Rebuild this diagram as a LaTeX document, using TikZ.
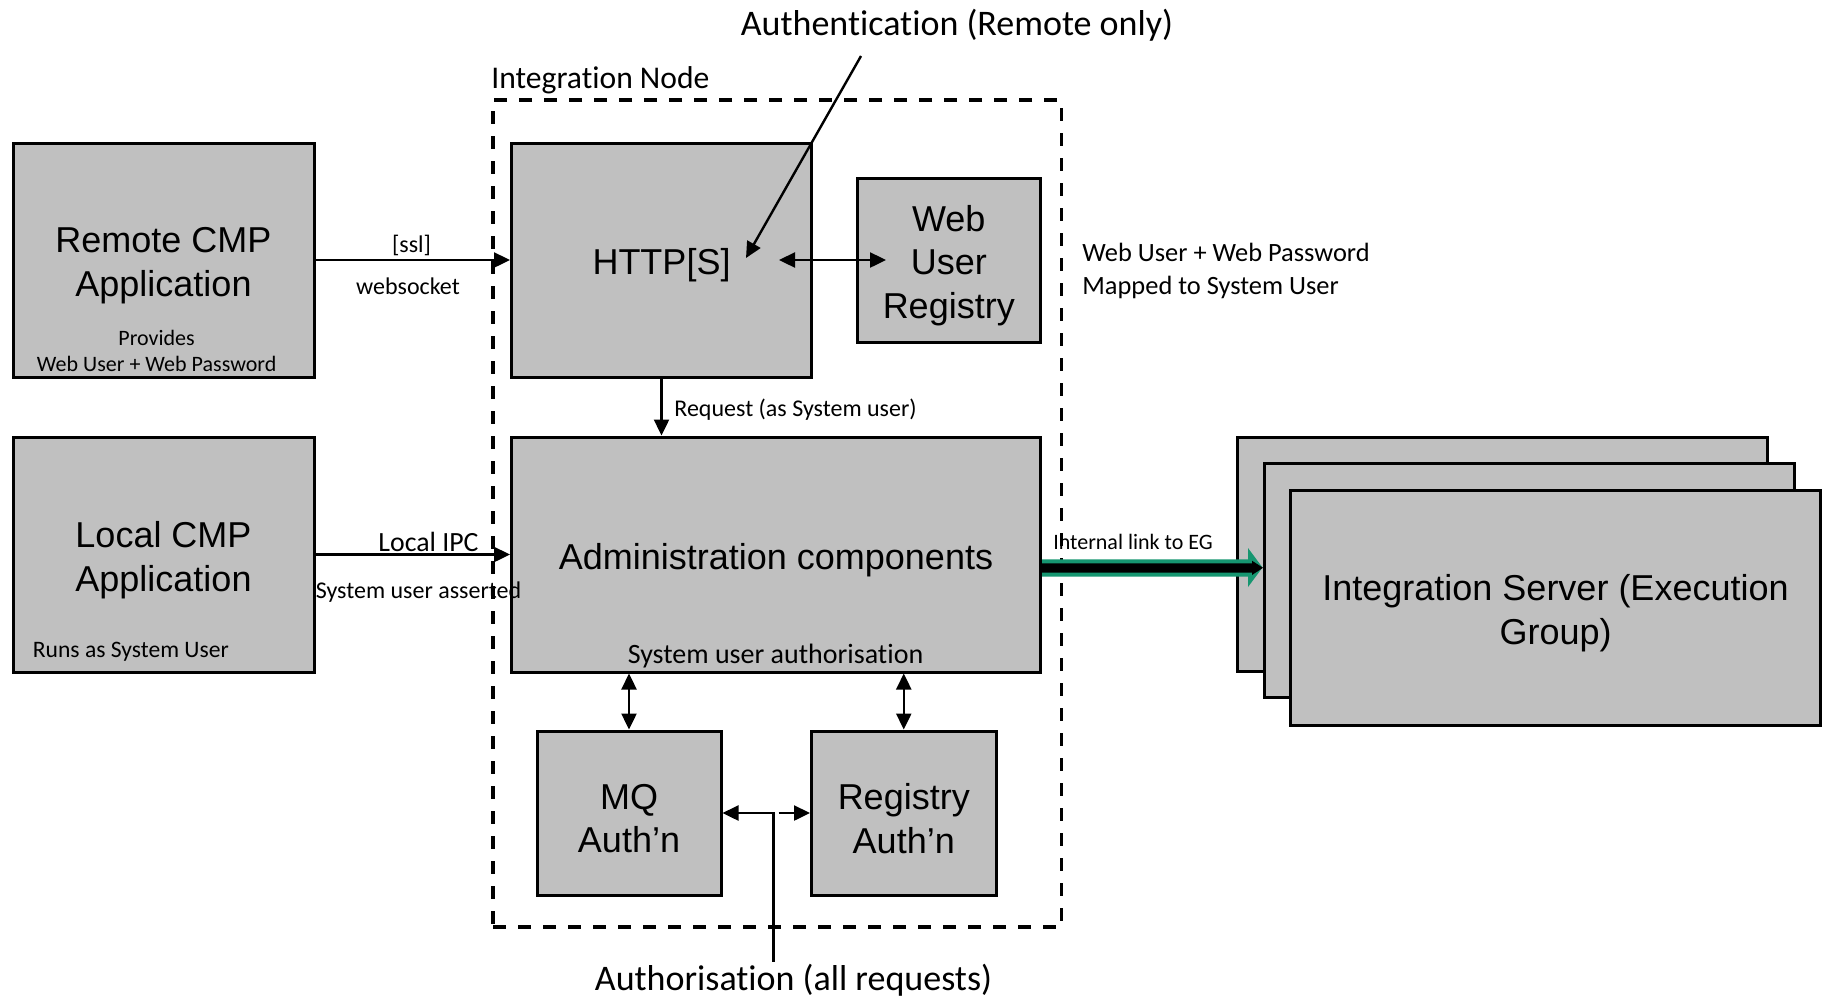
\documentclass[tikz,border=0pt]{standalone}
\usepackage{fontspec}
\setmainfont{Carlito}[Ligatures=NoCommon]
\newfontfamily\boxfont{Liberation Sans}
\usetikzlibrary{arrows.meta}
\definecolor{boxgray}{RGB}{192,192,192}
\definecolor{linkgreen}{RGB}{22,150,112}
\begin{document}
\begin{tikzpicture}[x=0.5pt,y=-0.5pt,
  box/.style={draw=black,line width=1.5pt,fill=boxgray,inner sep=0pt},
  boxtext/.style={align=center,inner sep=0pt,font=\boxfont\fontsize{18}{21.7}\selectfont},
  frame/.style={draw=black,line width=1.9pt,dash pattern=on 6.5pt off 6pt,inner sep=0pt},
  tip/.tip={Triangle[length=8pt,width=7.5pt]},
  arr/.style={line width=1.2pt,-tip},
  darr/.style={line width=1.2pt,tip-tip},
  lbl/.style={inner sep=0pt},
  big/.style={font=\fontsize{18}{21.6}\selectfont},
  mid/.style={font=\fontsize{14}{16.8}\selectfont},
  small/.style={font=\fontsize{12}{14.4}\selectfont}]
\useasboundingbox (0,0) rectangle (1823,997);

% client applications
\node[box,minimum width=150.5pt,minimum height=117pt] (remote) at (163.5,260) {};
\node[boxtext] (remotetxt) at ([yshift=-2.8pt]remote.center) {Remote CMP\\Application};
\node[box,minimum width=150.5pt,minimum height=117.5pt] (local) at (163.5,554.5) {};
\node[boxtext] (localtxt) at ([yshift=-2.8pt]local.center) {Local CMP\\Application};
\node[lbl,align=center,font=\fontsize{11}{13}\selectfont] (provides) at (156.6,350.5) {Provides\\Web User + Web Password};
\node[lbl,anchor=west,font=\fontsize{11.8}{14}\selectfont] (runsas) at (32.5,652) {Runs as System User};

% integration node frame
\node[frame,minimum width=284.25pt,minimum height=413.5pt] (inode) at (777.25,513.5) {};
\node[lbl,anchor=west,font=\fontsize{15.8}{19}\selectfont] (inodelbl) at (491,80) {Integration Node};

% components inside the integration node
\node[box,minimum width=150pt,minimum height=117pt] (http) at (661.5,260) {};
\node[boxtext] (httptxt) at ([yshift=-2.8pt]http.center) {HTTP[S]};
\node[box,minimum width=91.75pt,minimum height=82pt] (webreg) at (948.75,260) {};
\node[boxtext] (webregtxt) at ([yshift=-2.8pt]webreg.center) {Web\\User\\Registry};
\node[box,minimum width=264.5pt,minimum height=117.5pt] (admin) at (776,554.5) {};
\node[boxtext] (admintxt) at ([yshift=-2.8pt]admin.center) {Administration components};
\node[box,minimum width=92pt,minimum height=82pt] (mq) at (629,813) {};
\node[boxtext] (mqtxt) at ([yshift=-2.8pt]mq.center) {MQ\\Auth’n};
\node[box,minimum width=92.25pt,minimum height=82pt] (regauth) at (903.75,813) {};
\node[boxtext] (regauthtxt) at ([yshift=-2.8pt]regauth.center) {Registry\\Auth’n};
\node[lbl,mid] (sysauth) at (775.5,656) {System user authorisation};

% stacked integration servers
\node[box,minimum width=265pt,minimum height=117pt] (isback) at (1502,554) {};
\node[box,minimum width=265pt,minimum height=117pt] (ismid) at (1529,580.5) {};
\node[box,minimum width=265pt,minimum height=117.5pt] (is) at (1555.5,607.5) {};
\node[boxtext] (istxt) at ([yshift=-2.8pt]is.center) {Integration Server (Execution\\Group)};

% client connections
\draw[arr] (remote.east) -- (http.west);
\node[lbl,small] (ssl) at (411.5,245.5) {[ssl]};
\node[lbl,small] (ws) at (408,286) {websocket};
\draw[arr] (local.east) -- (admin.west);
\node[lbl,font=\fontsize{13.9}{16.7}\selectfont] (ipc) at (428.5,542) {Local IPC};
\node[lbl,small] (asserted) at (418.5,592.5) {System user asserted};

% web registry lookup
\coordinate (hwl) at (779,260);
\coordinate (hwr) at (886,260);
\draw[darr] (hwl) -- (hwr);
\node[lbl,anchor=west,align=left,font=\fontsize{13.2}{16.5}\selectfont] (mapnote) at (1082,271) {Web User + Web Password\\Mapped to System User};

% authentication callout
\node[lbl,big] (authn) at (957,25.5) {Authentication (Remote only)};
\coordinate (authtop) at (861,56);
\coordinate (authend) at (746,258);
\draw[arr] (authtop) -- (authend);

% request to administration
\draw[arr] (http.south) -- (http.south |- admin.north);
\node[lbl,small,anchor=west] (req) at (674,409.5) {Request (as System user)};

% authorisation links
\draw[darr] (admin.south -| mq.north) -- (mq.north);
\draw[darr] (admin.south -| regauth.north) -- (regauth.north);
\coordinate (split) at (773.3,813);
\coordinate (splitl) at (775,813);
\coordinate (splitr) at (778.5,813);
\draw[arr] (splitl) -- (mq.east);
\draw[arr] (splitr) -- (regauth.west);
\coordinate (authzend) at (773.3,962);
\draw[line width=1.4pt] (split) -- (authzend);
\node[lbl,big] (authz) at (793.5,980.5) {Authorisation (all requests)};

% internal link to the integration servers
\fill[linkgreen] (admin.east |- 0,559.3) -- (1248,559.3) -- (1248,548) -- (ismid.west |- 0,567.5)
  -- (1248,587) -- (1248,576.5) -- (admin.east |- 0,576.5) -- cycle;
\fill[black] (admin.east |- 0,563.3) -- (1252,563.3) -- (1252,560.7) -- (1263,567.8)
  -- (1252,575) -- (1252,572.5) -- (admin.east |- 0,572.5) -- cycle;
\node[lbl,font=\fontsize{11}{13}\selectfont] (intlink) at (1133,542) {Internal link to EG};
\end{tikzpicture}
\end{document}
